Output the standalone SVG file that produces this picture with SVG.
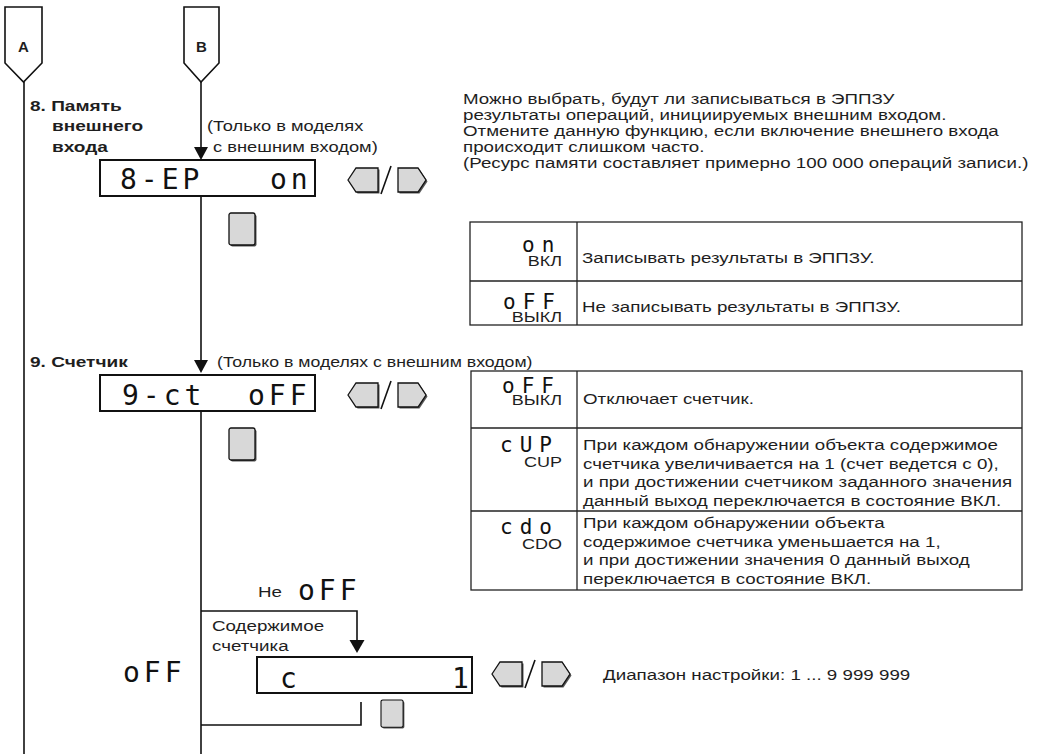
<svg xmlns="http://www.w3.org/2000/svg" width="1037" height="754" viewBox="0 0 1037 754">
<style>
.ln{stroke:#111;stroke-width:1.6;fill:none}
.ar{fill:#111}
.disp{fill:#fff;stroke:#111;stroke-width:2}
.tab{fill:#fff;stroke:#222;stroke-width:1.3}
.seg{font-family:"DejaVu Sans Mono",monospace;fill:#111}
.s1{font-size:28px;letter-spacing:4px}
.s2{font-size:21px;letter-spacing:7px}
.t{font-family:"Liberation Sans",Arial,sans-serif;font-size:15px;fill:#1e1e1e}
.b{font-weight:bold;font-size:15.5px}
.btn{fill:#d8d8d8;stroke:#111;stroke-width:1.3}
.sh{fill:#555}
</style>
<defs>
<g id="lr">
<path class="sh" d="M1.5,13.5 L9.5,1.5 H31.5 V25.5 H9.5 Z"/>
<path class="btn" d="M0,12 L8,0 H30 V24 H8 Z"/>
<line x1="33" y1="26" x2="43" y2="-2" stroke="#111" stroke-width="1.6"/>
<path class="sh" d="M51.5,1.5 H71.5 L79.5,13.5 L71.5,25.5 H51.5 Z"/>
<path class="btn" d="M50,0 H70 L78,12 L70,24 H50 Z"/>
</g>
<g id="sq">
<rect class="sh" x="1.5" y="1.5" width="26" height="32" rx="2"/>
<rect class="btn" x="0" y="0" width="26" height="32" rx="2"/>
</g>
</defs>
<rect width="1037" height="754" fill="#fff"/>

<g id="connectors">
<line class="ln" x1="24" y1="82" x2="24" y2="754"/>
<line class="ln" x1="201" y1="82" x2="201" y2="150"/>
<path class="ar" d="M194,147 H208 L201,160 Z"/>
<line class="ln" x1="201" y1="196" x2="201" y2="362"/>
<path class="ar" d="M194,360 H208 L201,373 Z"/>
<line class="ln" x1="201" y1="411" x2="201" y2="754"/>
<path class="ln" d="M201,611 H357 V642"/>
<path class="ar" d="M349.5,640 H364.5 L357,653 Z"/>
<path class="ln" d="M361,702 V725 H201"/>
</g>

<g id="nodeA">
<path d="M5,7 V63 L23.5,82 L42,63 V7 Z" fill="#fff" stroke="#111" stroke-width="1.6"/>
<text class="t" x="23.5" y="52" text-anchor="middle" font-weight="bold" font-size="14.5">A</text>
</g>
<g id="nodeB">
<path d="M184,7 V63 L201,82 L219,63 V7 Z" fill="#fff" stroke="#111" stroke-width="1.6"/>
<text class="t" x="201.5" y="52" text-anchor="middle" font-weight="bold" font-size="14.5">B</text>
</g>

<g id="label8">
<text class="t b" transform="translate(30 111) scale(1.23 1)">8. Память</text>
<text class="t b" transform="translate(52 131) scale(1.23 1)">внешнего</text>
<text class="t b" transform="translate(52 152) scale(1.23 1)">входа</text>
<text class="t" transform="translate(207 131) scale(1.22 1)">(Только в моделях</text>
<text class="t" transform="translate(213 152) scale(1.22 1)">с внешним входом)</text>
</g>

<g id="disp8">
<rect class="disp" x="100" y="160" width="215" height="36"/>
<text class="seg s1" x="120" y="189">8-EP</text>
<text class="seg s1" x="270" y="189">on</text>
</g>
<use href="#lr" x="348" y="168"/>
<use href="#sq" x="229" y="213"/>

<g id="note8">
<text class="t" transform="translate(463 104) scale(1.25 1)">Можно выбрать, будут ли записываться в ЭППЗУ</text>
<text class="t" transform="translate(463 120) scale(1.25 1)">результаты операций, инициируемых внешним входом.</text>
<text class="t" transform="translate(463 136) scale(1.25 1)">Отмените данную функцию, если включение внешнего входа</text>
<text class="t" transform="translate(463 152) scale(1.25 1)">происходит слишком часто.</text>
<text class="t" transform="translate(463 168) scale(1.25 1)">(Ресурс памяти составляет примерно 100 000 операций записи.)</text>
</g>

<g id="table8">
<rect class="tab" x="470" y="222" width="552" height="103"/>
<line class="tab" x1="470" y1="281" x2="1022" y2="281"/>
<line class="tab" x1="577" y1="222" x2="577" y2="325"/>
<text class="seg s2" x="522" y="252">on</text>
<text class="t" text-anchor="end" transform="translate(562 266) scale(1.2 1)">ВКЛ</text>
<text class="t" transform="translate(582 263) scale(1.25 1)">Записывать результаты в ЭППЗУ.</text>
<text class="seg s2" x="503" y="309">oFF</text>
<text class="t" text-anchor="end" transform="translate(562 322) scale(1.2 1)">ВЫКЛ</text>
<text class="t" transform="translate(582 312) scale(1.25 1)">Не записывать результаты в ЭППЗУ.</text>
</g>

<g id="label9">
<text class="t b" transform="translate(30 367) scale(1.23 1)">9. Счетчик</text>
<text class="t" transform="translate(217 367) scale(1.18 1)">(Только в моделях с внешним входом)</text>
</g>

<g id="disp9">
<rect class="disp" x="100" y="375" width="215" height="36"/>
<text class="seg s1" x="122" y="405">9-ct</text>
<text class="seg s1" x="248" y="405">oFF</text>
</g>
<use href="#lr" x="348" y="383"/>
<use href="#sq" x="229" y="428"/>

<g id="table9">
<rect class="tab" x="471" y="371" width="551" height="219"/>
<line class="tab" x1="471" y1="428" x2="1022" y2="428"/>
<line class="tab" x1="471" y1="511" x2="1022" y2="511"/>
<line class="tab" x1="577" y1="371" x2="577" y2="590"/>
<text class="seg s2" x="502" y="393">oFF</text>
<text class="t" text-anchor="end" transform="translate(562 405) scale(1.2 1)">ВЫКЛ</text>
<text class="t" transform="translate(583 404) scale(1.25 1)">Отключает счетчик.</text>
<text class="seg s2" x="500" y="452">cUP</text>
<text class="t" text-anchor="end" transform="translate(562 467) scale(1.2 1)">CUP</text>
<text class="t" transform="translate(583 450) scale(1.25 1)">При каждом обнаружении объекта содержимое</text>
<text class="t" transform="translate(583 468.5) scale(1.25 1)">счетчика увеличивается на 1 (счет ведется с 0),</text>
<text class="t" transform="translate(583 487) scale(1.25 1)">и при достижении счетчиком заданного значения</text>
<text class="t" transform="translate(583 505.5) scale(1.25 1)">данный выход переключается в состояние ВКЛ.</text>
<text class="seg s2" x="500" y="534">cdo</text>
<text class="t" text-anchor="end" transform="translate(562 549) scale(1.2 1)">CDO</text>
<text class="t" transform="translate(583 528) scale(1.25 1)">При каждом обнаружении объекта</text>
<text class="t" transform="translate(583 546.5) scale(1.25 1)">содержимое счетчика уменьшается на 1,</text>
<text class="t" transform="translate(583 565) scale(1.25 1)">и при достижении значения 0 данный выход</text>
<text class="t" transform="translate(583 583.5) scale(1.25 1)">переключается в состояние ВКЛ.</text>
</g>

<g id="branch">
<text class="t" transform="translate(258 597) scale(1.25 1)">Не</text>
<text class="seg s1" x="298" y="600">oFF</text>
<text class="t" transform="translate(212 631) scale(1.25 1)">Содержимое</text>
<text class="t" transform="translate(212 651) scale(1.25 1)">счетчика</text>
<text class="seg s1" x="123" y="682">oFF</text>
</g>

<g id="dispC">
<rect class="disp" x="257" y="657" width="215" height="36"/>
<text class="seg s1" x="280" y="688">c</text>
<text class="seg s1" x="452" y="688">1</text>
</g>
<use href="#lr" x="492" y="662"/>
<use href="#sq" transform="translate(381,700) scale(0.85)"/>
<text class="t" transform="translate(603 680) scale(1.25 1)">Диапазон настройки: 1 ... 9 999 999</text>
</svg>
